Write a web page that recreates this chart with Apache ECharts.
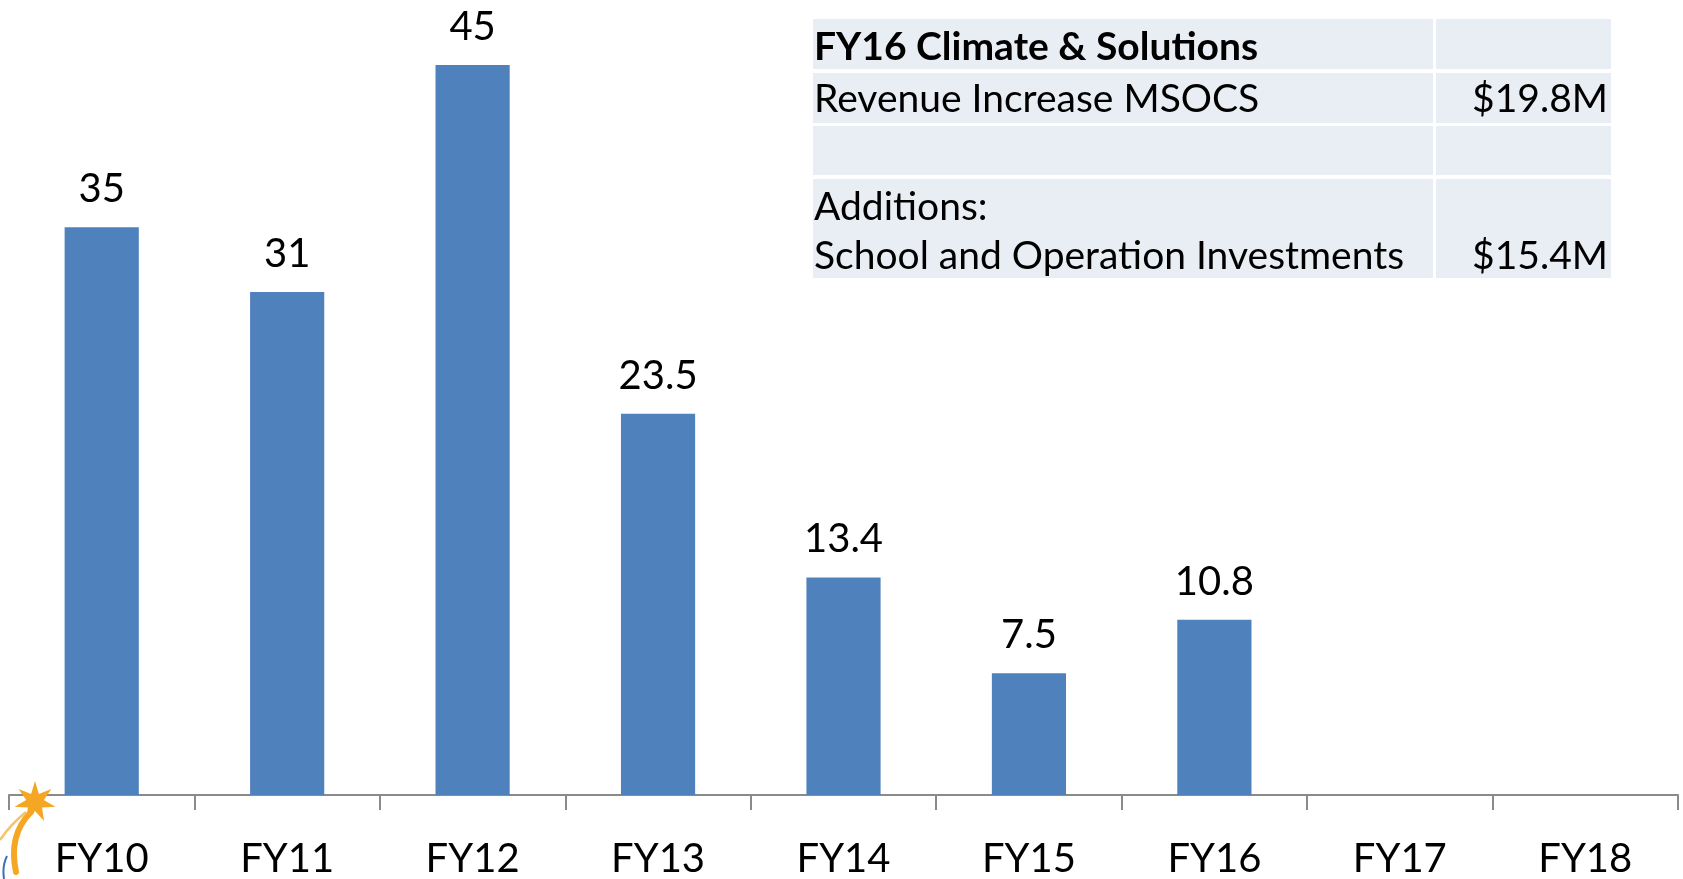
<!DOCTYPE html>
<html>
<head>
<meta charset="utf-8">
<title>FY10-FY18</title>
<script src="https://cdn.jsdelivr.net/npm/echarts@6/dist/echarts.min.js"></script>
<style>
  html, body { margin: 0; padding: 0; background: #fff; }
  #chart { width: 1683px; height: 879px; }
</style>
</head>
<body>
<div id="chart"></div>
<script>
// 数据
const categories = ['FY10', 'FY11', 'FY12', 'FY13', 'FY14', 'FY15', 'FY16', 'FY17', 'FY18']
const values = [35, 31, 45, 23.5, 13.4, 7.5, 10.8, null, null]

// 表格内容
const tableTitle = 'FY16 Climate & Solutions'
const tableLabels = ['Revenue Increase MSOCS', '', 'Additions:', 'School and Operation Investments']
const tableAmounts = ['$19.8M', '', '', '$15.4M']

const FONT = 'Lato, "Open Sans", sans-serif'
const FS = 40      // 柱子标签 / 横轴
const FS_TABLE = 39

// 表格底色 / 格子
const cellFill = '#e9edf4'
const colL = [813, 1433]
const colR = [1436, 1611]
const rowsY = [[19, 69], [73, 123], [126, 175], [179, 278]]

const tableGraphics = []
rowsY.forEach(r => {
  tableGraphics.push({ type: 'rect', shape: { x: colL[0], y: r[0], width: colL[1] - colL[0], height: r[1] - r[0] }, style: { fill: cellFill }, silent: true })
  tableGraphics.push({ type: 'rect', shape: { x: colR[0], y: r[0], width: colR[1] - colR[0], height: r[1] - r[0] }, style: { fill: cellFill }, silent: true })
})
const txt = (text, x, y, align, bold) => ({
  type: 'text', x: x, y: y, silent: true,
  style: { text: text, fill: '#000', font: (bold ? 'bold ' : '') + FS_TABLE + 'px ' + FONT, textAlign: align, textVerticalAlign: 'middle' }
})
tableGraphics.push(txt(tableTitle, 814, 47, 'left', true))
tableGraphics.push(txt(tableLabels[0], 814, 99, 'left'))
tableGraphics.push(txt(tableAmounts[0], 1608, 99, 'right'))
tableGraphics.push(txt(tableLabels[2], 814, 207, 'left'))
tableGraphics.push(txt(tableLabels[3], 814, 256, 'left'))
tableGraphics.push(txt(tableAmounts[3], 1608, 256, 'right'))

// 左下角星星标志
const starPts = []
const sc = [35, 802]
for (let i = 0; i < 14; i++) {
  const a = -Math.PI / 2 + i * Math.PI / 7
  const rr = i % 2 === 0 ? 21 : 9
  starPts.push([sc[0] + rr * Math.cos(a), sc[1] + rr * Math.sin(a)])
}
const logo = [
  { type: 'bezierCurve', silent: true, z: 10,
    shape: { x1: 31, y1: 812, cpx1: 8, cpy1: 835, x2: 16, y2: 872 },
    style: { stroke: '#f5a623', lineWidth: 6, lineCap: 'round', fill: null } },
  { type: 'bezierCurve', silent: true, z: 10,
    shape: { x1: 26, y1: 812, cpx1: 10, cpy1: 825, x2: 0, y2: 840 },
    style: { stroke: '#f7c26b', lineWidth: 2.5, fill: null } },
  { type: 'bezierCurve', silent: true, z: 10,
    shape: { x1: 7, y1: 856, cpx1: 2, cpy1: 866, x2: 4, y2: 879 },
    style: { stroke: '#3b6fb6', lineWidth: 2, fill: null } },
  { type: 'polygon', silent: true, z: 10,
    shape: { points: starPts },
    style: { fill: '#f5a623' } }
]

const chart = echarts.init(document.getElementById('chart'))
chart.setOption({
  animation: false,
  grid: { left: 9, right: 5, top: 0, bottom: 82 },
  xAxis: {
    type: 'category',
    data: categories,
    boundaryGap: true,
    axisLine: { show: true, lineStyle: { color: '#8a8a8a', width: 2 } },
    axisTick: { show: true, interval: 0, alignWithLabel: false, length: 15, lineStyle: { color: '#8a8a8a', width: 2 } },
    axisLabel: { color: '#000', fontSize: FS, fontFamily: FONT, margin: 44, interval: 0 }
  },
  yAxis: { type: 'value', min: 0, max: 49, show: false },
  series: [{
    type: 'bar',
    data: values,
    barWidth: '40%',
    itemStyle: { color: '#4f81bd' },
    label: {
      show: true,
      position: 'top',
      distance: 18,
      color: '#000',
      fontSize: FS,
      fontFamily: FONT
    }
  }],
  graphic: tableGraphics.concat(logo)
})
</script>
</body>
</html>
